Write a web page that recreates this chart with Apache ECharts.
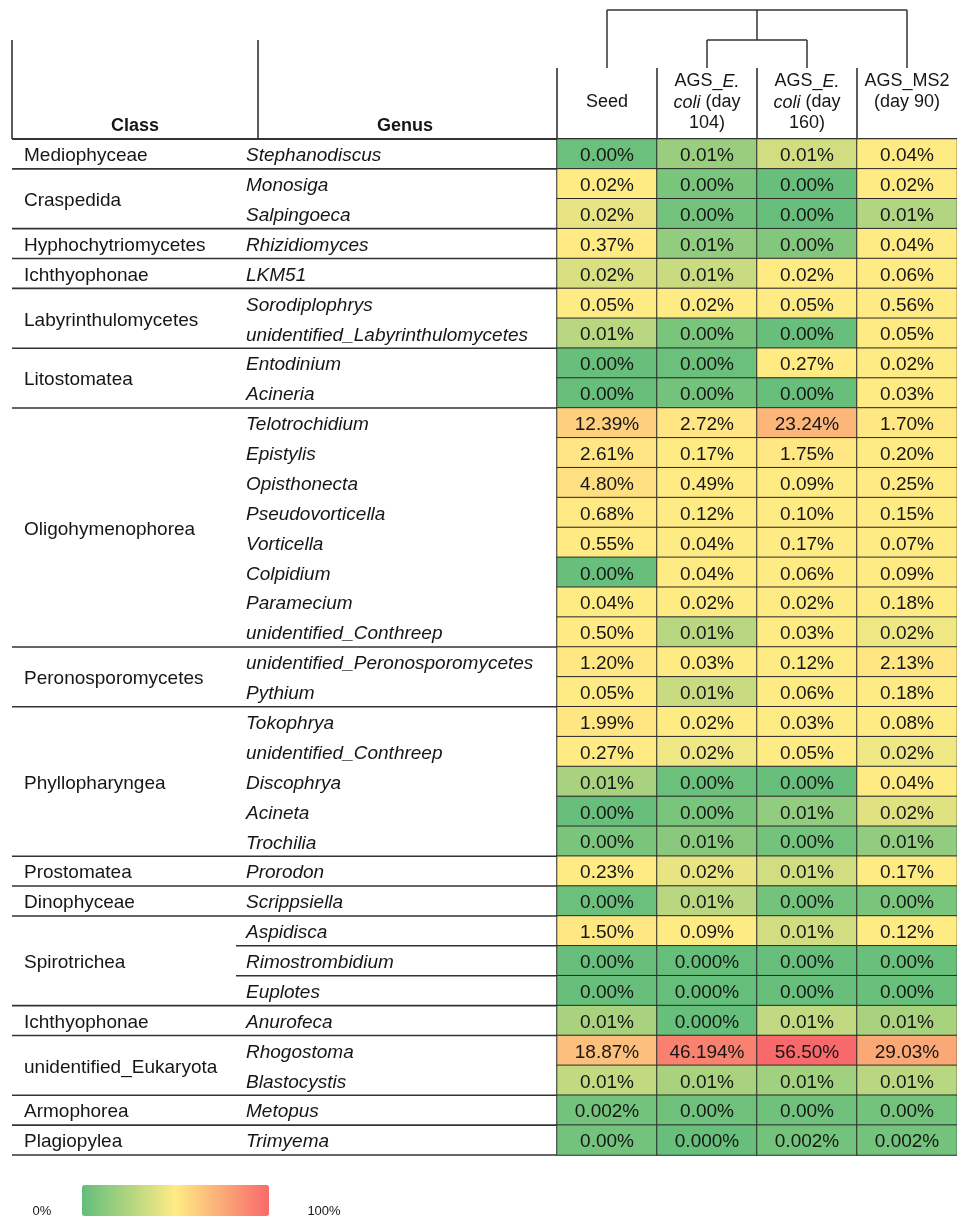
<!DOCTYPE html>
<html><head><meta charset="utf-8">
<script src="https://cdn.jsdelivr.net/npm/echarts@6/dist/echarts.min.js"></script>
<style>html,body{margin:0;padding:0;background:#fff}#c{width:957px;height:1219px}</style>
</head><body><div id="c"></div>
<script>
const columns = ['Seed', 'AGS_E. coli (day 104)', 'AGS_E. coli (day 160)', 'AGS_MS2 (day 90)'];
const columnHeaderLines = [['Seed', ''], ['AGS_E.', 'coli (day', '104)'], ['AGS_E.', 'coli (day', '160)'], ['AGS_MS2', '(day 90)', '']];
const italicTokens = ['E.', 'coli'];
const dendrogram = [0, [1, 2], 3];

const classNames = ['Mediophyceae', 'Craspedida', 'Hyphochytriomycetes', 'Ichthyophonae', 'Labyrinthulomycetes', 'Litostomatea', 'Oligohymenophorea', 'Peronosporomycetes', 'Phyllopharyngea', 'Prostomatea', 'Dinophyceae', 'Spirotrichea', 'Ichthyophonae', 'unidentified_Eukaryota', 'Armophorea', 'Plagiopylea'];
const classSizes = [1, 2, 1, 1, 2, 2, 8, 2, 5, 1, 1, 3, 1, 2, 1, 1];
const ruledClasses = ['Spirotrichea'];

const genera = ['Stephanodiscus', 'Monosiga', 'Salpingoeca', 'Rhizidiomyces', 'LKM51', 'Sorodiplophrys', 'unidentified_Labyrinthulomycetes', 'Entodinium', 'Acineria', 'Telotrochidium', 'Epistylis', 'Opisthonecta', 'Pseudovorticella', 'Vorticella', 'Colpidium', 'Paramecium', 'unidentified_Conthreep', 'unidentified_Peronosporomycetes', 'Pythium', 'Tokophrya', 'unidentified_Conthreep', 'Discophrya', 'Acineta', 'Trochilia', 'Prorodon', 'Scrippsiella', 'Aspidisca', 'Rimostrombidium', 'Euplotes', 'Anurofeca', 'Rhogostoma', 'Blastocystis', 'Metopus', 'Trimyema'];

// estimated relative abundance (%) per genus
const seedValues = [0.001, 0.02, 0.017, 0.37, 0.015, 0.05, 0.011, 0.0005, 0.0005, 12.39, 2.61, 4.80, 0.68, 0.55, 0.0005, 0.04, 0.50, 1.20, 0.05, 1.99, 0.27, 0.009, 0.0005, 0.003, 0.23, 0.001, 1.50, 0.0005, 0.0005, 0.009, 18.87, 0.012, 0.002, 0.002];
const day104Values = [0.007, 0.003, 0.002, 0.006, 0.013, 0.02, 0.003, 0.001, 0.002, 2.72, 0.17, 0.49, 0.12, 0.04, 0.04, 0.02, 0.011, 0.03, 0.013, 0.02, 0.018, 0.001, 0.003, 0.005, 0.017, 0.011, 0.09, 0.0003, 0.0003, 0.0004, 46.194, 0.009, 0.0015, 0.0005];
const day160Values = [0.014, 0.0005, 0.0005, 0.004, 0.02, 0.05, 0.0005, 0.27, 0.0005, 23.24, 1.75, 0.09, 0.10, 0.17, 0.06, 0.02, 0.03, 0.12, 0.06, 0.03, 0.05, 0.0005, 0.006, 0.002, 0.014, 0.002, 0.014, 0.0005, 0.0005, 0.012, 56.50, 0.008, 0.0015, 0.002];
const ms2Values = [0.04, 0.02, 0.01, 0.04, 0.06, 0.56, 0.05, 0.02, 0.03, 1.70, 0.20, 0.25, 0.15, 0.07, 0.09, 0.18, 0.018, 2.13, 0.18, 0.08, 0.018, 0.04, 0.016, 0.006, 0.17, 0.003, 0.12, 0.0007, 0.0007, 0.009, 29.03, 0.011, 0.002, 0.002];

// printed labels
const seedLabels = ['0.00%', '0.02%', '0.02%', '0.37%', '0.02%', '0.05%', '0.01%', '0.00%', '0.00%', '12.39%', '2.61%', '4.80%', '0.68%', '0.55%', '0.00%', '0.04%', '0.50%', '1.20%', '0.05%', '1.99%', '0.27%', '0.01%', '0.00%', '0.00%', '0.23%', '0.00%', '1.50%', '0.00%', '0.00%', '0.01%', '18.87%', '0.01%', '0.002%', '0.00%'];
const day104Labels = ['0.01%', '0.00%', '0.00%', '0.01%', '0.01%', '0.02%', '0.00%', '0.00%', '0.00%', '2.72%', '0.17%', '0.49%', '0.12%', '0.04%', '0.04%', '0.02%', '0.01%', '0.03%', '0.01%', '0.02%', '0.02%', '0.00%', '0.00%', '0.01%', '0.02%', '0.01%', '0.09%', '0.000%', '0.000%', '0.000%', '46.194%', '0.01%', '0.00%', '0.000%'];
const day160Labels = ['0.01%', '0.00%', '0.00%', '0.00%', '0.02%', '0.05%', '0.00%', '0.27%', '0.00%', '23.24%', '1.75%', '0.09%', '0.10%', '0.17%', '0.06%', '0.02%', '0.03%', '0.12%', '0.06%', '0.03%', '0.05%', '0.00%', '0.01%', '0.00%', '0.01%', '0.00%', '0.01%', '0.00%', '0.00%', '0.01%', '56.50%', '0.01%', '0.00%', '0.002%'];
const ms2Labels = ['0.04%', '0.02%', '0.01%', '0.04%', '0.06%', '0.56%', '0.05%', '0.02%', '0.03%', '1.70%', '0.20%', '0.25%', '0.15%', '0.07%', '0.09%', '0.18%', '0.02%', '2.13%', '0.18%', '0.08%', '0.02%', '0.04%', '0.02%', '0.01%', '0.17%', '0.00%', '0.12%', '0.00%', '0.00%', '0.01%', '29.03%', '0.01%', '0.00%', '0.002%'];

const legendLabels = ['0%', '100%'];
const scaleColors = ['#63BE7B', '#FFEB84', '#F8696B'];
const scaleMidpoint = 0.02;

const FONT = '"Liberation Sans", Arial, sans-serif';
const TXT = '#161616';
const LINE = '#333';

const valueCols = [seedValues, day104Values, day160Values, ms2Values];
const labelCols = [seedLabels, day104Labels, day160Labels, ms2Labels];
const maxV = Math.max(...valueCols.flat());
function scalePos(v) {
  return v <= scaleMidpoint ? 0.5 * v / scaleMidpoint : 0.5 + 0.5 * (v - scaleMidpoint) / (maxV - scaleMidpoint);
}
const heatData = [];
valueCols.forEach((col, ci) => col.forEach((v, ri) => heatData.push([ci, ri, v, scalePos(v), labelCols[ci][ri]])));

const groupStarts = [];
classSizes.reduce((acc, s) => { groupStarts.push(acc); return acc + s; }, 0);

function headerRich(lines) {
  return lines.map(line => {
    if (!line) return '{n|\u00a0}';
    let out = '';
    line.split(/(\s+|_)/).forEach(tok => {
      if (!tok) return;
      out += italicTokens.includes(tok) ? '{i|' + tok + '}' : '{n|' + tok.replace(/ /g, '\u00a0') + '}';
    });
    return out;
  }).join('\n');
}

const chart = echarts.init(document.getElementById('c'), null, { renderer: 'canvas' });
const option = {
  backgroundColor: '#fff',
  animation: false,
  textStyle: { fontFamily: FONT },
  grid: { left: 557, right: 0, top: 139, bottom: 64 },
  xAxis: {
    type: 'category', data: columns, position: 'top',
    axisLine: { show: false }, axisTick: { show: false }, splitLine: { show: false },
    axisLabel: {
      interval: 0, margin: 5, verticalAlign: 'bottom',
      formatter: (v, i) => headerRich(columnHeaderLines[i]),
      rich: {
        n: { fontSize: 18, lineHeight: 21, color: TXT, fontFamily: FONT },
        i: { fontSize: 18, lineHeight: 21, color: TXT, fontStyle: 'italic', fontFamily: FONT }
      }
    }
  },
  yAxis: {
    type: 'category', data: genera, inverse: true,
    axisLine: { show: false }, axisTick: { show: false }, splitLine: { show: false },
    axisLabel: { interval: 0, align: 'left', margin: 311, fontSize: 19, fontStyle: 'italic', color: TXT, fontFamily: FONT, padding: [0, 0, 0, 0], lineHeight: 19, verticalAlign: 'middle' }
  },
  visualMap: {
    type: 'continuous', seriesIndex: 0, dimension: 3, min: 0, max: 1,
    calculable: false, hoverLink: false, orient: 'horizontal',
    left: 82, top: 1185, itemWidth: 31, itemHeight: 187, padding: 0, text: null, showLabel: false,
    inRange: { color: scaleColors }
  },
  series: [
    {
      type: 'heatmap', data: heatData,
      itemStyle: { borderColor: '#2a2a2a', borderWidth: 1 },
      label: { show: true, formatter: p => p.data[4], fontSize: 19, color: TXT, fontFamily: FONT, offset: [0, 2] },
      emphasis: { disabled: true }
    },
    {
      type: 'custom', coordinateSystem: 'cartesian2d', clip: false, silent: true,
      encode: { x: 0, y: 1 },
      data: groupStarts.map(s => [0, s]),
      renderItem: (params, api) => {
        const i = params.dataIndex;
        const start = groupStarts[i], end = start + classSizes[i] - 1;
        const h = api.size([0, 1])[1];
        const top = api.coord([0, start])[1] - h / 2;
        const bottom = api.coord([0, end])[1] + h / 2;
        const gl = params.coordSys.x;
        const children = [
          { type: 'text', style: { text: classNames[i], x: 24, y: (top + bottom) / 2 + 2, verticalAlign: 'middle', align: 'left', font: '19px ' + FONT, fill: TXT } },
          { type: 'line', shape: { x1: 12, y1: bottom, x2: gl, y2: bottom }, style: { stroke: LINE, lineWidth: 1.6 } }
        ];
        // genus labels, offset slightly below row centre like the reference
        for (let k = start; k <= end; k++) {
          const y = api.coord([0, k])[1];
          children.push({ type: 'text', style: { text: genera[k], x: 246, y: y + 2, verticalAlign: 'middle', align: 'left', font: 'italic 19px ' + FONT, fill: TXT } });
        }
        if (ruledClasses.includes(classNames[i])) {
          for (let k = start; k < end; k++) {
            const y = api.coord([0, k])[1] + h / 2;
            children.push({ type: 'line', shape: { x1: 236, y1: y, x2: gl, y2: y }, style: { stroke: LINE, lineWidth: 1.6 } });
          }
        }
        return { type: 'group', children };
      }
    }
  ]
};
// genus names are drawn by the custom series (row positions from the y axis)
option.yAxis.axisLabel.show = false;
chart.setOption(option);

// header rules, dendrogram and legend labels positioned via the axes
const gridTop = 139;
const cx = columns.map((c, i) => chart.convertToPixel({ xAxisIndex: 0 }, i));
const colW = cx[1] - cx[0];
const g = [];
const L = (x1, y1, x2, y2, w) => g.push({ type: 'line', silent: true, shape: { x1, y1, x2, y2 }, style: { stroke: LINE, lineWidth: w || 1.6 } });
L(12, gridTop, 957, gridTop, 2.2);
L(12, 40, 12, gridTop);
L(258, 40, 258, gridTop);
cx.forEach(x => L(x - colW / 2, 68, x - colW / 2, gridTop));
g.push({ type: 'text', silent: true, style: { text: 'Class', x: 135, y: 126, align: 'center', verticalAlign: 'middle', font: 'bold 18px ' + FONT, fill: TXT } });
g.push({ type: 'text', silent: true, style: { text: 'Genus', x: 405, y: 126, align: 'center', verticalAlign: 'middle', font: 'bold 18px ' + FONT, fill: TXT } });

const levelY = [68, 40, 10];
function drawNode(node) {
  if (!Array.isArray(node)) return { x: cx[node], y: levelY[0], lvl: 0 };
  const kids = node.map(drawNode);
  const lvl = 1 + Math.max(...kids.map(k => k.lvl));
  const y = levelY[lvl];
  kids.forEach(k => L(k.x, k.y, k.x, y, 1.5));
  L(kids[0].x, y, kids[kids.length - 1].x, y, 1.5);
  return { x: (kids[0].x + kids[kids.length - 1].x) / 2, y, lvl };
}
drawNode(dendrogram);

g.push({ type: 'text', silent: true, style: { text: legendLabels[0], x: 42, y: 1211, align: 'center', verticalAlign: 'middle', font: '13px ' + FONT, fill: TXT } });
g.push({ type: 'text', silent: true, style: { text: legendLabels[1], x: 324, y: 1211, align: 'center', verticalAlign: 'middle', font: '13px ' + FONT, fill: TXT } });
chart.setOption({ graphic: g });
</script>
</body></html>
